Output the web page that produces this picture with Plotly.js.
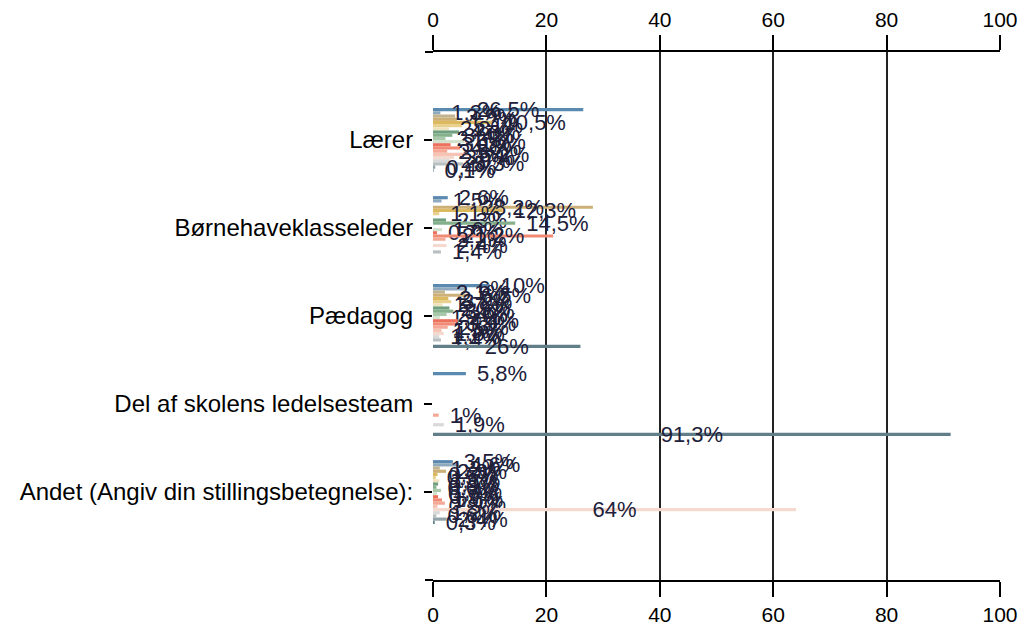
<!DOCTYPE html>
<html><head><meta charset="utf-8">
<script src="https://cdn.plot.ly/plotly-3.0.1.min.js"></script>
<style>html,body{margin:0;padding:0;background:#fff}</style>
</head><body><div id="chart" style="width:1027px;height:625px"></div>
<script>
const categories = ['Lærer', 'Børnehaveklasseleder', 'Pædagog', 'Del af skolens ledelsesteam', 'Andet (Angiv din stillingsbetegnelse):'];
const seriesNames = ['Serie 1','Serie 2','Serie 3','Serie 4','Serie 5','Serie 6','Serie 7','Serie 8','Serie 9','Serie 10',
                     'Serie 11','Serie 12','Serie 13','Serie 14','Serie 15','Serie 16','Serie 17','Serie 18','Serie 19','Serie 20'];
// values (%) per category, one entry per series
const laerer    = [26.5, 1.3, 3.9, 4.2, 10.5, 5.1, 2.8, 4.6, 3.4, 2.2, 5.6, 3.1, 4.8, 2.5, 6.2, 3.7, 2.9, 5.3, 0.4, 0.1];
const bornehave = [2.6, 1.5, 0, 28.2, 12.3, 1.1, 0, 2.3, 14.5, 0, 1.6, 0.7, 21.2, 2.2, 0, 2.4, 0, 1.4, 0, 0];
const paedagog  = [10, 6, 2.1, 6.5, 2.7, 3.2, 1.7, 2.9, 3.6, 2.4, 1.2, 4.4, 3.9, 2.6, 1.5, 1.9, 1.1, 1.4, 0, 26];
const ledelse   = [5.8, 0, 0, 0, 0, 0, 0, 0, 0, 0, 0, 0, 0, 1, 0, 0, 1.9, 0, 0, 91.3];
const andet     = [3.5, 4.6, 1.2, 2.3, 0.8, 0.5, 1.1, 0.9, 0.6, 1.4, 0.7, 0.9, 1.6, 2.1, 0.8, 64, 1.2, 0.6, 2.4, 0.3];
const tickVals  = [0, 20, 40, 60, 80, 100];
const colors = ['#5a8ab0','#8fa9bf','#c2b48e','#cdb077','#dcb95e','#e8d08e','#efe3bf','#6f9f7e','#84b08c','#a9c9aa',
                '#d2e2cf','#ec705c','#f08a74','#f4a895','#f6c3b5','#f4d9cf','#d9d9d9','#b9c0c2','#92a4a9','#627e88'];

function fmt(v) {
  if (!v) return '';
  const s = Number.isInteger(v) ? String(v) : v.toFixed(1).replace('.', ',');
  return s + '%';
}

const labelFont = {family: 'Liberation Sans, Arial, sans-serif', size: 22, color: '#20203a'};
const traces = seriesNames.map((name, i) => {
  const vals = [laerer[i], bornehave[i], paedagog[i], ledelse[i], andet[i]];
  return {
    type: 'bar', orientation: 'h', name: name,
    x: vals, y: categories,
    marker: {color: colors[i]},
    text: vals.map(v => v >= 20 ? fmt(v) : (v ? '\u2002' + fmt(v) : '')),
    textposition: vals.map(v => v >= 20 ? 'inside' : 'outside'),
    insidetextanchor: 'middle',
    constraintext: 'none',
    textangle: 0,
    cliponaxis: false,
    textfont: labelFont, insidetextfont: labelFont, outsidetextfont: labelFont,
    hoverinfo: 'skip', showlegend: false
  };
});
traces.push({type: 'scatter', mode: 'markers', x: [], y: [], xaxis: 'x2', yaxis: 'y', showlegend: false, hoverinfo: 'skip'});

const axFont = {family: 'Liberation Sans, Arial, sans-serif', size: 21, color: '#000'};
const xCommon = {
  range: [0, 100], tickvals: tickVals, ticktext: tickVals.map(String),
  showgrid: true, gridcolor: '#222', gridwidth: 2,
  zeroline: false, showline: true, linecolor: '#000', linewidth: 2,
  ticks: 'outside', ticklen: 15, tickwidth: 2, tickcolor: '#000',
  tickfont: axFont, fixedrange: true
};

const layout = {
  width: 1027, height: 625,
  margin: {l: 433, r: 27, t: 52, b: 45},
  paper_bgcolor: '#fff', plot_bgcolor: '#fff',
  barmode: 'group', bargap: 0.275, bargroupgap: 0,
  showlegend: false,
  font: {family: 'Liberation Sans, Arial, sans-serif', color: '#000'},
  xaxis: Object.assign({}, xCommon, {side: 'bottom'}),
  xaxis2: Object.assign({}, xCommon, {side: 'top', overlaying: 'x', matches: 'x', anchor: 'y'}),
  yaxis: {
    type: 'category', categoryorder: 'array', categoryarray: categories,
    range: [5, -1], showgrid: false, zeroline: false, showline: false,
    ticks: 'outside', ticklen: 8, tickwidth: 2, tickcolor: '#000',
    ticklabelstandoff: 6,
    tickfont: {family: 'Liberation Sans, Arial, sans-serif', size: 24, color: '#000'},
    fixedrange: true
  },
  shapes: [
    {type: 'line', xref: 'paper', yref: 'paper', x0: -8/567, x1: 0, y0: 1, y1: 1, line: {color: '#000', width: 2}},
    {type: 'line', xref: 'paper', yref: 'paper', x0: -8/567, x1: 0, y0: 0, y1: 0, line: {color: '#000', width: 2}}
  ]
};

Plotly.newPlot('chart', traces, layout, {staticPlot: true, displayModeBar: false});
</script>
</body></html>
